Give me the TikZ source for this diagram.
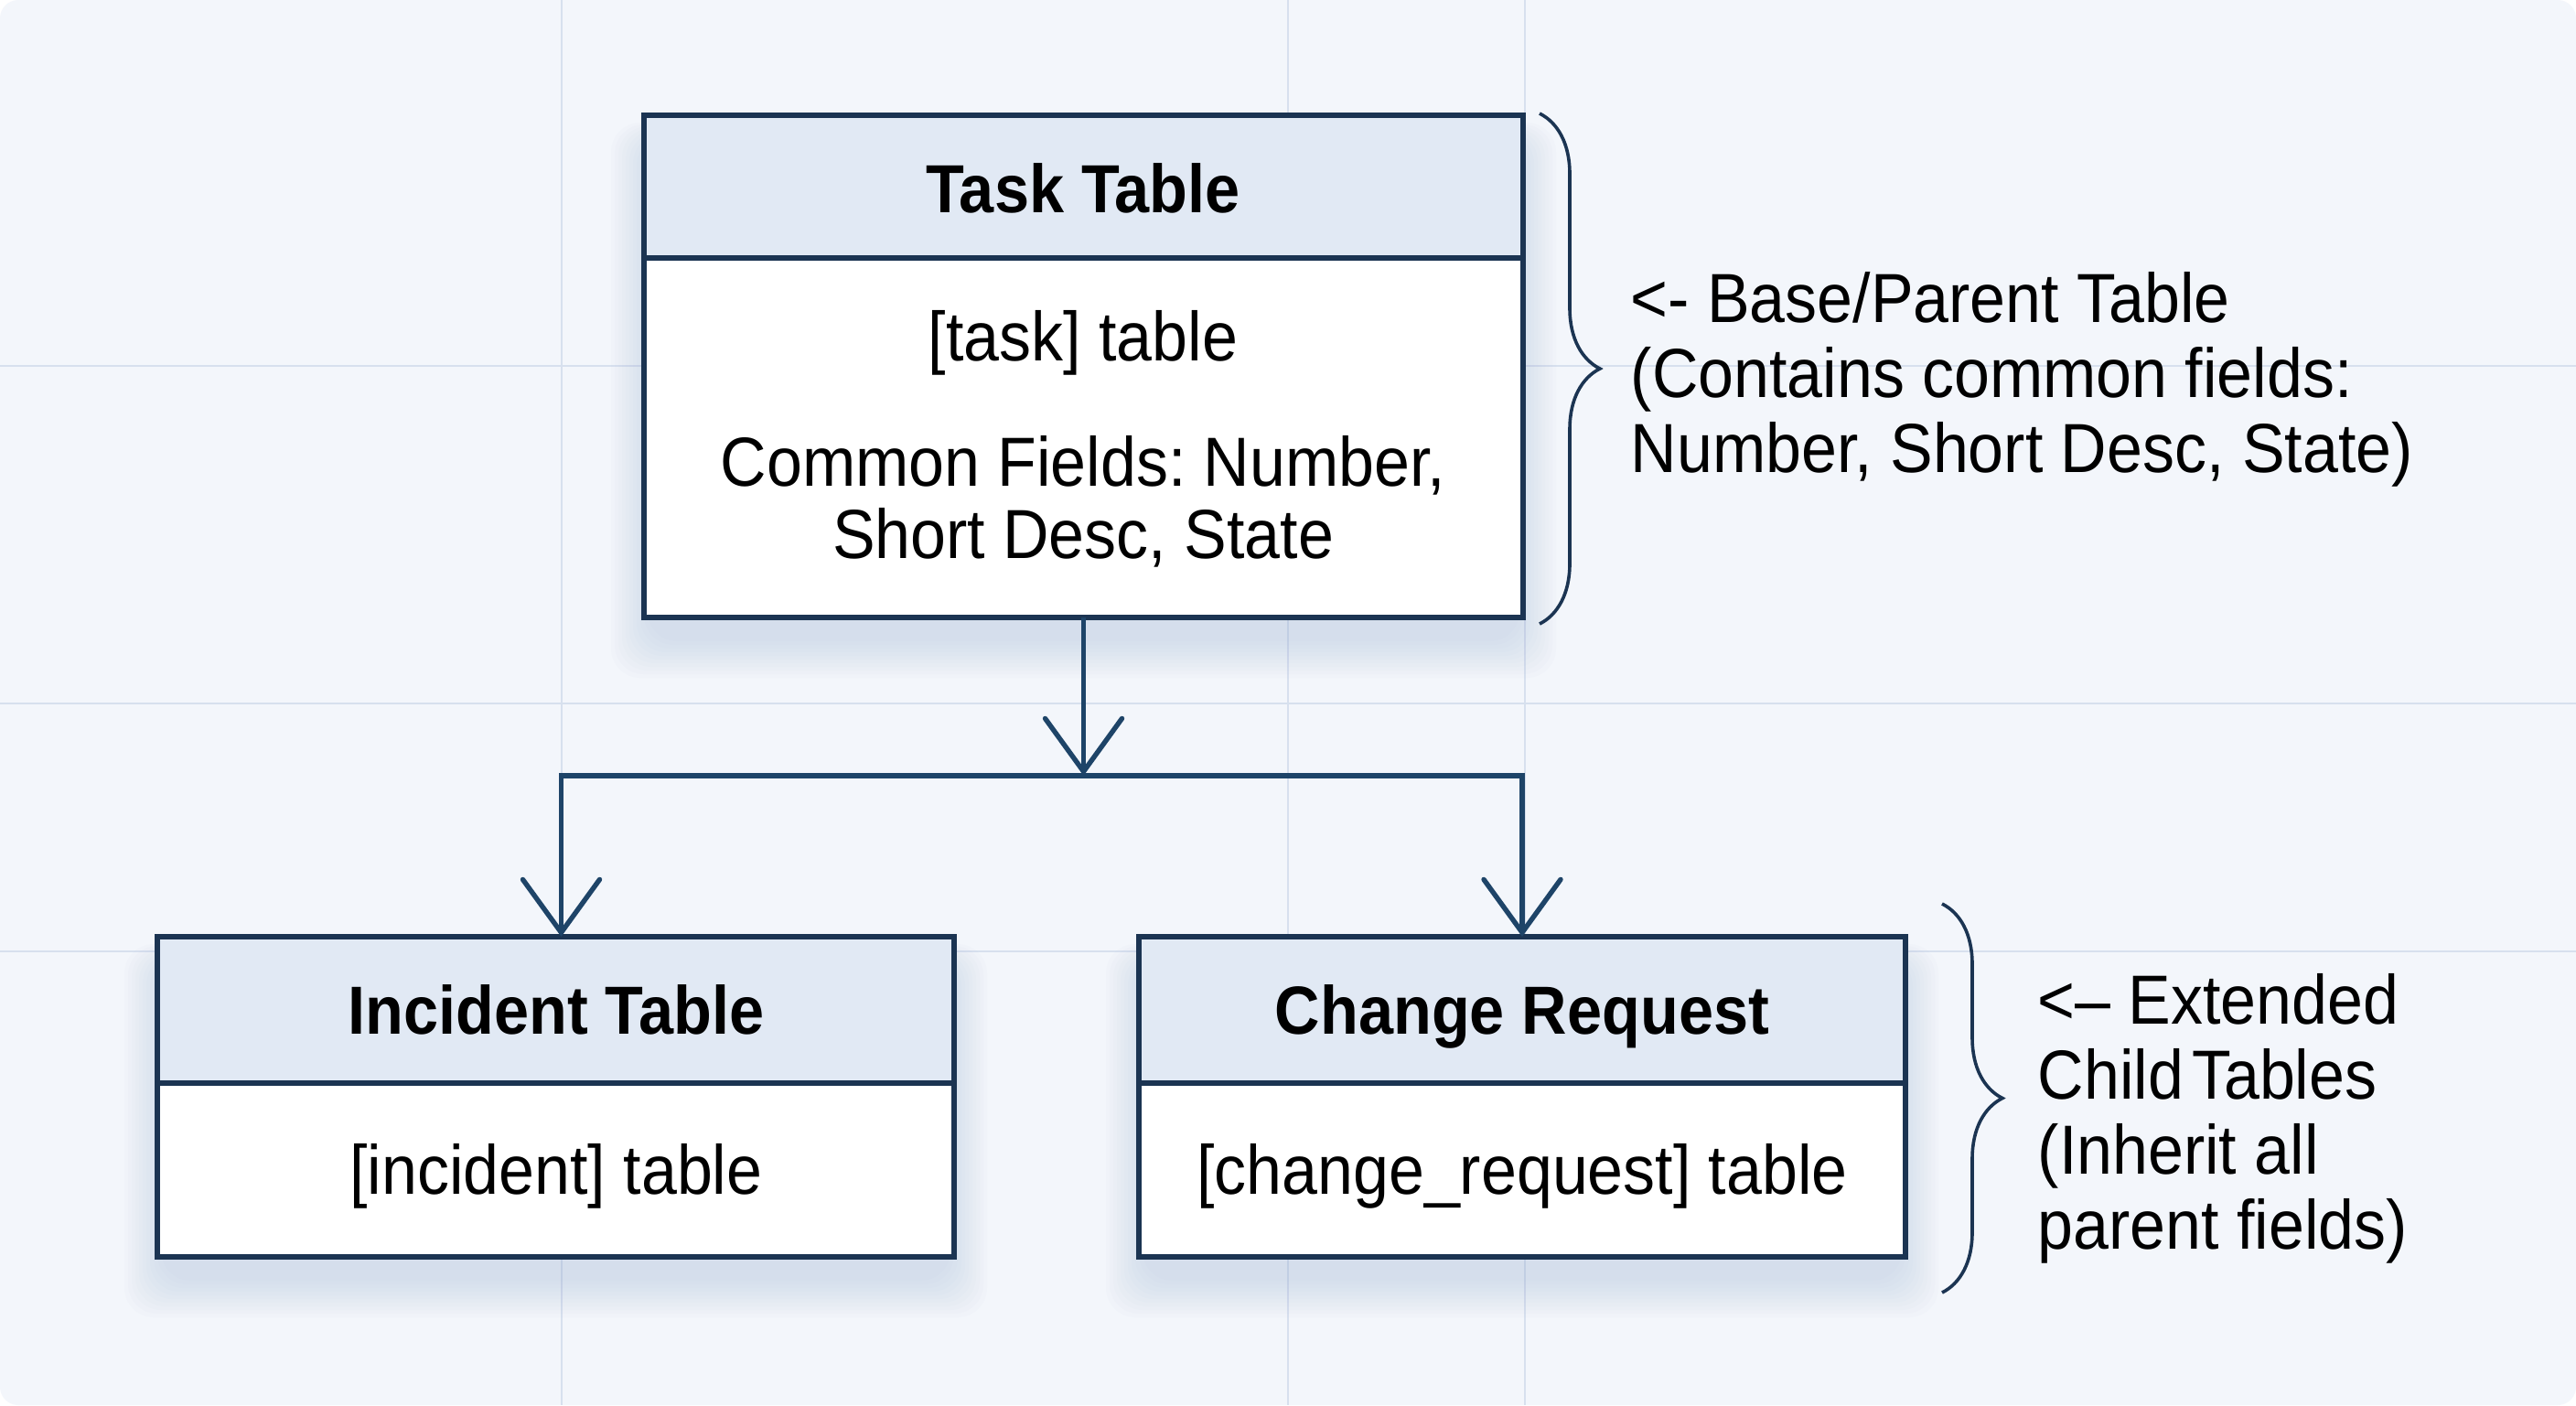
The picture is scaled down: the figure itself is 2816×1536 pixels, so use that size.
\documentclass[tikz,border=0pt]{standalone}
\usepackage{fontspec}
\setmainfont{Liberation Sans}[FakeStretch=0.92]
\frenchspacing
\usetikzlibrary{arrows.meta,decorations.pathreplacing,calc}
\definecolor{bgc}{HTML}{F3F6FB}
\definecolor{gridc}{HTML}{D7E0EE}
\definecolor{navy}{HTML}{1B3452}
\definecolor{arrowc}{HTML}{1E4468}
\definecolor{headc}{HTML}{E1E9F4}
\definecolor{shadec}{HTML}{9DB3D5}
\pgfdeclarelayer{back}\pgfdeclarelayer{shade}\pgfsetlayers{back,shade,main}
\begin{document}
\begin{tikzpicture}[x=0.25pt,y=-0.25pt,
  tbox/.style={fill=white, inner sep=0pt, outer sep=0pt},
  frame/.style={draw=navy, line width=1.3pt},
  divider/.style={draw=navy, line width=1.3pt},
  ttl/.style={font=\bfseries\fontsize{18.6pt}{22pt}\selectfont, text=black, text height=13.4pt, text depth=3.7pt},
  bodytxt/.style={font=\fontsize{19pt}{19.75pt}\selectfont, align=center, text=black},
  onel/.style={text height=14.2pt, text depth=4.1pt},
  note/.style={font=\fontsize{19pt}{20.5pt}\selectfont, align=left, anchor=west, inner sep=0pt, text=black},
  conn/.style={draw=arrowc, line width=1.35pt, -{Straight Barb[length=14.5pt,width=21pt,line cap=round]}},
  bracestyle/.style={draw=navy, line width=0.9pt, decorate, decoration={brace, amplitude=16.5pt}},
]
\useasboundingbox (0,0) rectangle (2816,1536);
\begin{pgfonlayer}{back}
\fill[white] (0,0) rectangle (2816,1536);
\fill[bgc, rounded corners=5pt] (0,0) rectangle (2816,1536);
\foreach \gx in {614,1408,1667} \draw[gridc, line width=0.5pt] (\gx,0) -- (\gx,1536);
\foreach \gy in {400,769,1040} \draw[gridc, line width=0.5pt] (0,\gy) -- (2816,\gy);
\end{pgfonlayer}

% boxes
\node[tbox, minimum width=240.25pt, minimum height=137.25pt] (task) at (1184.5,400.5) {};
\fill[headc] (task.north west) rectangle ($(task.north east)+(0,156)$);
\draw[divider] ($(task.north west)+(0,156)$) -- ($(task.north east)+(0,156)$);
\draw[frame] (task.north west) rectangle (task.south east);

\node[tbox, minimum width=217.75pt, minimum height=87.5pt] (inc) at (607.5,1199) {};
\fill[headc] (inc.north west) rectangle ($(inc.north east)+(0,160)$);
\draw[divider] ($(inc.north west)+(0,160)$) -- ($(inc.north east)+(0,160)$);
\draw[frame] (inc.north west) rectangle (inc.south east);

\node[tbox, minimum width=209.5pt, minimum height=87.5pt] (chg) at (1664,1199) {};
\fill[headc] (chg.north west) rectangle ($(chg.north east)+(0,160)$);
\draw[divider] ($(chg.north west)+(0,160)$) -- ($(chg.north east)+(0,160)$);
\draw[frame] (chg.north west) rectangle (chg.south east);

\begin{pgfonlayer}{shade}
\foreach \n in {task,inc,chg}{
  \foreach \r in {4,8,...,44}{
    \fill[shadec, opacity=0.03, rounded corners=8pt] ($(\n.north west)+(-\r+8,30-\r*0.5)$) rectangle ($(\n.south east)+(\r-8,22+\r)$);
  }}
\end{pgfonlayer}

% texts
\node[ttl] (tasktitle) at (1184,213) {Task Table};
\node[bodytxt, onel] (tasktab) at (1184,374) {[task] table};
\node[bodytxt] (taskfields) at (1184,548) {Common Fields: Number,\\Short Desc, State};
\node[ttl] (inctitle) at (608,1111) {Incident Table};
\node[bodytxt, onel] (inctab) at (608,1285) {[incident] table};
\node[ttl] (chgtitle) at (1664,1111) {Change Request};
\node[bodytxt, onel] (chgtab) at (1664,1285) {[change\_request] table};

% connectors
\coordinate (junc) at (1184.5,848);
\coordinate (incin) at ($(inc.north)+(6,0)$);
\draw[conn] (task.south) -- (junc);
\draw[conn] (junc) -| (incin);
\draw[conn] (junc) -| (chg.north);

% braces
\draw[bracestyle] ($(task.north east)+(18,-2)$) -- ($(task.south east)+(18,7)$);
\draw[bracestyle] ($(chg.north east)+(40,-36)$) -- ($(chg.south east)+(40,39)$);

% notes
\node[note] (note1) at (1782,415) {<- Base/Parent Table\\(Contains common fields:\\Number, Short Desc, State)};
\node[note] (note2) at (2227,1223) {<– Extended\\Child\hspace{0.12em}Tables\\(Inherit all\\parent fields)};
\end{tikzpicture}
\end{document}
